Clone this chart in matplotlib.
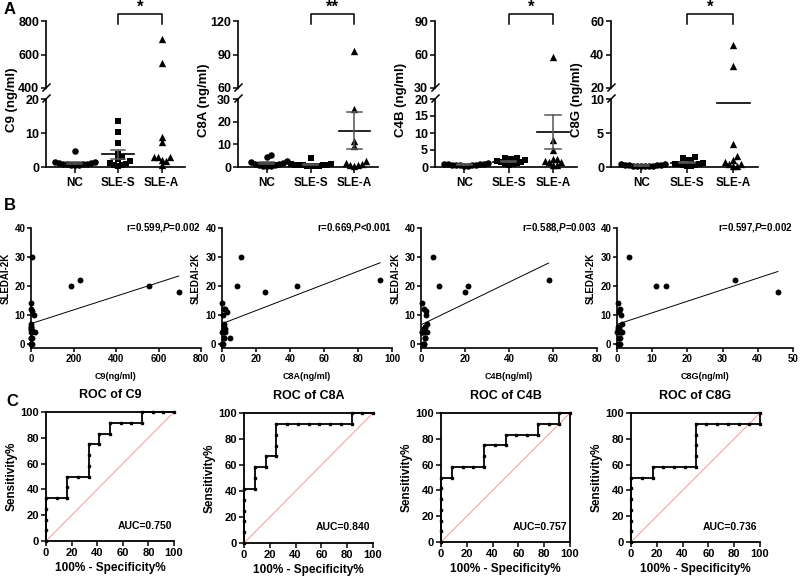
import numpy as np
import matplotlib
matplotlib.use("Agg")
import matplotlib.pyplot as plt
from matplotlib.lines import Line2D

plt.rcParams['font.family'] = ['Liberation Sans', 'DejaVu Sans']
plt.rcParams['font.weight'] = 'bold'
plt.rcParams['axes.labelweight'] = 'bold'
plt.rcParams['axes.titleweight'] = 'bold'
plt.rcParams['mathtext.fontset'] = 'custom'
plt.rcParams['mathtext.it'] = 'Liberation Sans:italic:bold'
plt.rcParams['mathtext.rm'] = 'Liberation Sans:bold'

# ---- data ----
groups = ["NC", "SLE-S", "SLE-A"]
proteins = ["C9", "C8A", "C4B", "C8G"]

# panel A, ng/ml per group
c9_nc = [4.6, 1.6, 1.4, 1.3, 1.2, 1.0, 0.9, 0.8, 0.8, 0.7, 0.6, 0.5]
c9_sles = [13.4, 10.3, 7.1, 3.9, 2.8, 2.4, 1.8, 1.2, 0.8, 0.6, 0.5, 0.4]
c9_slea = [695, 551, 8.8, 7.3, 3.0, 3.0, 2.9, 2.0, 1.9, 0.5]
c8a_nc = [5.1, 4.5, 2.6, 2.2, 1.8, 1.5, 1.2, 1.0, 0.8, 0.6, 0.5, 0.4]
c8a_sles = [4.1, 1.5, 1.3, 1.1, 1.0, 0.9, 0.8, 0.7, 0.6, 0.5, 0.4, 0.3]
c8a_slea = [93.4, 25.6, 11.6, 9.2, 2.7, 1.8, 1.2, 1.0, 0.8, 0.6]
c4b_nc = [1.1, 1.0, 0.9, 0.9, 0.8, 0.7, 0.7, 0.6, 0.5, 0.5, 0.4, 0.3]
c4b_sles = [2.7, 2.6, 2.5, 2.3, 2.0, 1.8, 1.6, 1.4, 1.2, 1.0, 0.8, 0.6]
c4b_slea = [57.6, 7.9, 5.1, 2.5, 2.3, 1.8, 1.5, 1.5, 0.5, 0.5]
c8g_nc = [0.45, 0.4, 0.35, 0.3, 0.3, 0.25, 0.2, 0.2, 0.2, 0.15, 0.1, 0.1]
c8g_sles = [1.5, 1.3, 1.1, 1.0, 0.6, 0.5, 0.4, 0.4, 0.3, 0.3, 0.2, 0.2]
c8g_slea = [45.6, 33.2, 3.4, 1.6, 1.0, 0.7, 0.4, 0.4, 0.1, 0.1]

# mean and SEM lines as drawn (NaN = not drawn)
c9_mean, c9_sem = [1.2, 3.7, 107.0], [0.3, 1.25, 75.0]
c8a_mean, c8a_sem = [1.8, 1.0, 16.0], [0.45, 0.3, 8.2]
c4b_mean, c4b_sem = [0.7, 1.6, 10.3], [0.08, 0.2, 4.9]
c8g_mean, c8g_sem = [0.25, 0.65, 9.4], [0.03, 0.13, np.nan]

signif = ["*", "**", "*", "*"]

# panel B, SLEDAI-2K vs protein level (24 SLE patients, some overlap)
sledai_c9 = [30, 20, 22, 20, 18, 14, 12, 11.5, 10, 7, 6, 5, 4.6, 4, 2, 2, 0, 0,
             0, 2, 4, 4, 6, 5]
conc_c9 = [5, 188, 229, 553, 695, 0, 1, 4, 12, 1, 0, 2, 4, 18, 0, 6, 0, 3,
           1, 0, 1, 3, 2, 1]
sledai_c8a = [30, 20, 18, 20, 22, 2, 14, 12, 12, 11, 10, 7, 6, 5, 4, 4, 4, 2, 0, 0,
              0, 2, 4, 5]
conc_c8a = [11, 9, 25.5, 44, 93, 4.5, 0, 1, 2, 3, 0.5, 1, 1, 2, 1, 0, 2, 1, 0, 0.5,
            0, 1, 0.5, 1]
sledai_c4b = [30, 20, 18, 20, 22, 14, 12, 11.5, 10, 7, 6, 5, 4, 4, 4, 2, 0, 0,
              0, 2, 4, 5, 6, 4]
conc_c4b = [5.3, 8, 20, 21.5, 58, 0.5, 1.2, 2.3, 2.4, 2.7, 2, 1.2, 0.3, 2, 2.7, 1.7, 0.9, 1.5,
            1.2, 2.0, 1.0, 1.5, 1.8, 0.6]
sledai_c8g = [30, 20, 20, 22, 18, 14, 12, 11, 10, 7, 6, 5, 4, 4, 4, 2, 0, 0,
              0, 2, 4, 5, 6, 4]
conc_c8g = [3.4, 11.2, 13.8, 33.6, 45.7, 0.3, 0.8, 0.6, 1.0, 1.5, 0.4, 0.3, 0.0, 0.9, 1.5, 0.8, 0.3, 0.8,
            0.5, 0.6, 0.4, 0.5, 0.7, 1.0]
r_vals = [0.599, 0.669, 0.588, 0.597]
p_txt = ["=0.002", "<0.001", "=0.003", "=0.002"]

# panel C, ROC points as counts out of 12 (SLE-S vs SLE-A)
fp_c9 = [0, 0, 0, 0, 0, 1, 2, 2, 2, 3, 4, 4, 4, 4, 5, 5, 6, 6, 7, 8, 9, 9, 10, 11, 12]
tp_c9 = [0, 1, 2, 3, 4, 4, 4, 5, 6, 6, 6, 7, 8, 9, 9, 10, 10, 11, 11, 11, 11, 12, 12, 12, 12]
fp_c8a = [0, 0, 0, 0, 0, 0, 1, 1, 1, 2, 2, 3, 3, 3, 3, 4, 5, 6, 7, 8, 9, 10, 10, 11, 12]
tp_c8a = [0, 1, 2, 3, 4, 5, 5, 6, 7, 7, 8, 8, 9, 10, 11, 11, 11, 11, 11, 11, 11, 11, 12, 12, 12]
fp_c4b = [0, 0, 0, 0, 0, 0, 0, 1, 1, 2, 3, 4, 4, 4, 5, 6, 6, 7, 8, 9, 9, 10, 11, 11, 12]
tp_c4b = [0, 1, 2, 3, 4, 5, 6, 6, 7, 7, 7, 7, 8, 9, 9, 9, 10, 10, 10, 10, 11, 11, 11, 12, 12]
fp_c8g = [0, 0, 0, 0, 0, 0, 0, 1, 2, 2, 3, 4, 5, 6, 6, 6, 6, 6, 7, 8, 9, 10, 11, 12, 12]
tp_c8g = [0, 1, 2, 3, 4, 5, 6, 6, 6, 7, 7, 7, 7, 7, 8, 9, 10, 11, 11, 11, 11, 11, 11, 11, 12]

# ---- layout (pixel boxes) ----
W, H = 800, 580
fig = plt.figure(figsize=(W / 100, H / 100), dpi=100)


def add_ax(l, t, r, b):
    return fig.add_axes([l / W, 1 - b / H, (r - l) / W, (b - t) / H])


def fig_line(x0, y0, x1, y1, **kw):
    fig.add_artist(Line2D([x0 / W, x1 / W], [1 - y0 / H, 1 - y1 / H],
                          transform=fig.transFigure, color='k', lw=1.1, **kw))


def swarm(ypix, dx=3.8, dy=5.0, xscale=44.0):
    # simple beeswarm: nearest free spot to the centre (box overlap test)
    placed = []
    offs = np.zeros(len(ypix))
    for i in np.argsort(ypix):
        y = ypix[i]
        for k in range(400):
            c = (k + 1) // 2 * (1 if k % 2 else -1) * 0.5
            if all(abs(c - px) >= dx or abs(y - py) >= dy for px, py in placed):
                break
        placed.append((c, y))
        offs[i] = c / xscale
    return offs


def style(ax, lw=1.2):
    for s in ax.spines.values():
        s.set_linewidth(lw)
    ax.tick_params(width=1.1, length=3.5, labelsize=8, pad=1.5)


a_data = [(c9_nc, c9_sles, c9_slea), (c8a_nc, c8a_sles, c8a_slea),
          (c4b_nc, c4b_sles, c4b_slea), (c8g_nc, c8g_sles, c8g_slea)]
a_mean = [(c9_mean, c9_sem), (c8a_mean, c8a_sem), (c4b_mean, c4b_sem), (c8g_mean, c8g_sem)]
a_lims = [((0, 20), (400, 800)), ((0, 30), (60, 120)), ((0, 20), (30, 90)), ((0, 10), (20, 60))]
a_ticks = [([0, 10, 20], [400, 600, 800]), ([0, 10, 20, 30], [60, 90, 120]),
           ([0, 5, 10, 15, 20], [30, 60, 90]), ([0, 5, 10], [20, 40, 60])]
a_x = [(46, 185), (238, 378), (435, 577), (611, 758)]
markers = ['o', 's', '^']
msize = [22, 22, 28]
y_top, y_brk1, y_brk2, y_bot = 21, 88, 99, 167

for p in range(4):
    l, r = a_x[p]
    (b0, b1), (t0, t1) = a_lims[p]
    ax_t = add_ax(l, y_top, r, y_brk1)
    ax_b = add_ax(l, y_brk2, r, y_bot)
    xscale = (r - l) / 3.2
    for g in range(3):
        v = np.array(a_data[p][g], dtype=float)
        # pixel heights to spread the markers
        ypix = np.where(v <= b1, v / b1 * (y_bot - y_brk2),
                        (y_bot - y_brk2) + 11 + (v - t0) / (t1 - t0) * (y_brk1 - y_top))
        xs = g + swarm(ypix, xscale=xscale)
        lo = v <= b1
        ax_b.scatter(xs[lo], v[lo], marker=markers[g], s=msize[g], c='k',
                     linewidths=0, clip_on=False, zorder=3)
        ax_t.scatter(xs[~lo], v[~lo], marker=markers[g], s=msize[g], c='k',
                     linewidths=0, clip_on=False, zorder=3)
        m, e = a_mean[p][0][g], a_mean[p][1][g]
        for ax in (ax_t, ax_b):
            ax.plot([g - 0.36, g + 0.36], [m, m], color='k', lw=1.2, zorder=4)
            if not np.isnan(e):
                ax.plot([g, g], [m - e, m + e], color='#555555', lw=1.1, zorder=4)
                for yy in (m - e, m + e):
                    ax.plot([g - 0.17, g + 0.17], [yy, yy], color='#555555', lw=1.1, zorder=4)
    for ax in (ax_t, ax_b):
        ax.set_xlim(-0.66, 2.54)
        style(ax)
        ax.tick_params(labelsize=9)
        ax.spines['top'].set_visible(False)
        ax.spines['right'].set_visible(False)
    ax_b.set_ylim(b0, b1)
    ax_t.set_ylim(t0, t1)
    ax_b.set_yticks(a_ticks[p][0])
    ax_t.set_yticks(a_ticks[p][1])
    ax_t.spines['bottom'].set_visible(False)
    ax_t.set_xticks([])
    ax_b.set_xticks([0, 1, 2])
    ax_b.set_xticklabels(groups)
    ax_b.tick_params(axis='x', length=4, pad=3, labelsize=8.5)
    # significance bracket between SLE-S and SLE-A
    tr = ax_t.get_xaxis_transform()
    ax_t.plot([1, 1, 2, 2], [0.96, 1.1, 1.1, 0.96], transform=tr, color='k',
              lw=1.1, clip_on=False)
    ax_t.text(1.5, 1.1, signif[p], transform=tr, ha='center', va='bottom', fontsize=12)
    # axis break marks
    for yb in (y_brk1, y_brk2):
        fig_line(l - 3, yb + 3, l + 4, yb - 4)
    fig.text((l - 34) / W, 1 - 100 / H, f"{proteins[p]} (ng/ml)", rotation=90,
             ha='center', va='center', fontsize=9.5)

# ---- panel B ----
b_x = [conc_c9, conc_c8a, conc_c4b, conc_c8g]
b_y = [sledai_c9, sledai_c8a, sledai_c4b, sledai_c8g]
b_box = [(31, 201), (222, 392), (421, 597), (617, 793)]
b_ylab_x = [6, 196, 396, 591]
b_xmax = [800, 100, 80, 50]
b_xstep = [200, 20, 20, 10]
for p in range(4):
    l, r = b_box[p]
    ax = add_ax(l, 228, r, 348)
    x = np.array(b_x[p], dtype=float)
    y = np.array(b_y[p], dtype=float)
    ax.scatter(x, y, s=18, c='k', linewidths=0, clip_on=False, zorder=3)
    k, c = np.polyfit(x, y, 1)
    xl = np.array([x.min(), x.max()])
    ax.plot(xl, k * xl + c, color='k', lw=0.7)
    ax.set_xlim(0, b_xmax[p])
    ax.set_ylim(-1.4, 40)
    ax.set_xticks(np.arange(0, b_xmax[p] + 1, b_xstep[p]))
    ax.set_yticks([0, 10, 20, 30, 40])
    style(ax)
    ax.tick_params(labelsize=7, length=3, pad=1)
    ax.spines['top'].set_visible(False)
    ax.spines['right'].set_visible(False)
    fig.text(b_ylab_x[p] / W, 1 - 278 / H, "SLEDAI-2K", rotation=90,
             ha='center', va='center', fontsize=7)
    ax.set_xlabel(f"{proteins[p]}(ng/ml)", fontsize=6.5, labelpad=6)
    ax.text(1.0, 1.0, rf"r={r_vals[p]:.3f},$\mathit{{P}}${p_txt[p]}", transform=ax.transAxes,
            ha='right', va='center', fontsize=7)

# ---- panel C ----
c_fp = [fp_c9, fp_c8a, fp_c4b, fp_c8g]
c_tp = [tp_c9, tp_c8a, tp_c4b, tp_c8g]
c_box = [(46, 412, 174, 541), (244, 413, 373, 543), (441, 413, 570, 542), (631, 413, 760, 542)]
for p in range(4):
    ax = add_ax(*c_box[p])
    fpr = np.array(c_fp[p]) * 100 / 12
    tpr = np.array(c_tp[p]) * 100 / 12
    auc = np.trapezoid(tpr, fpr) / 1e4
    ax.plot([0, 100], [0, 100], color='#f39a9a', lw=0.7, zorder=1)
    ax.plot(fpr, tpr, color='k', lw=1.3, marker='s', ms=1.8, clip_on=False, zorder=3)
    ax.set_xlim(0, 100)
    ax.set_ylim(0, 100)
    ax.set_xticks(range(0, 101, 20))
    ax.set_yticks(range(0, 101, 20))
    style(ax, lw=1.3)
    ax.spines['right'].set_visible(p == 2)
    ax.set_title(f"ROC of {proteins[p]}", fontsize=9, pad=10)
    ax.set_xlabel("100% - Specificity%", fontsize=8.5, labelpad=3)
    ax.set_ylabel("Sensitivity%", fontsize=8.5, labelpad=2)
    ax.text(0.77, 0.12, f"AUC={auc:.3f}", transform=ax.transAxes, ha='center',
            va='center', fontsize=7.5)

# panel letters
for letter, (px, py) in zip("ABC", [(10, 9), (10, 205), (12, 402)]):
    fig.text(px / W, 1 - py / H, letter, fontsize=12, ha='center', va='center')

fig.savefig("out.png", dpi=100)
